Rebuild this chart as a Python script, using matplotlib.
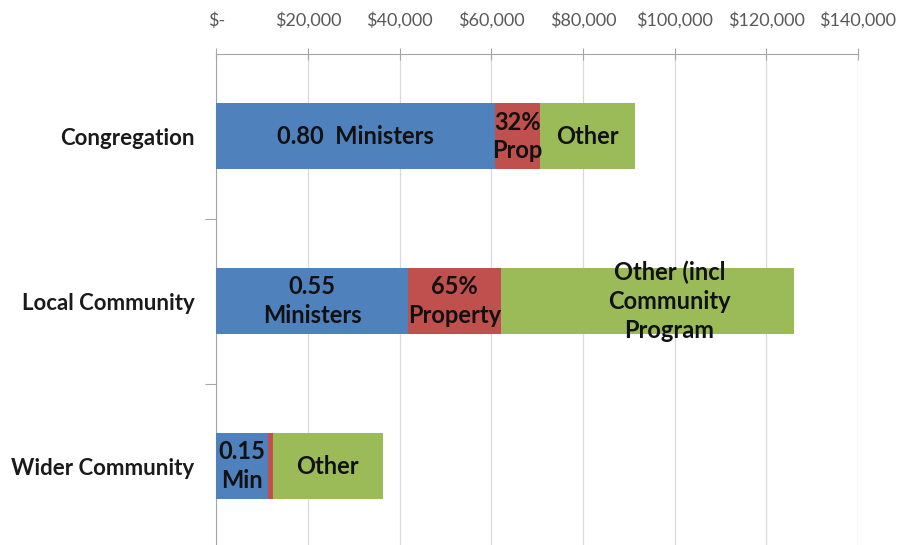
import matplotlib
matplotlib.use('Agg')
import matplotlib.pyplot as plt
import numpy as np
from matplotlib.ticker import FuncFormatter

# spend per area
categories = ['Congregation', 'Local Community', 'Wider Community']
ministers = [60700, 41700, 11300]
prop = [10000, 20400, 1000]
other = [20700, 63900, 24000]

min_labels = ['0.80  Ministers', '0.55\nMinisters', '0.15\nMin']
prop_labels = ['32%\nProp', '65%\nProperty', '']
other_labels = ['Other', 'Other (incl\nCommunity\nProgram', 'Other']

xticks = [0, 20000, 40000, 60000, 80000, 100000, 120000, 140000]

plt.rcParams['font.family'] = ['Lato', 'DejaVu Sans']

fig = plt.figure(figsize=(8.99, 5.45), dpi=100)
ax = fig.add_axes([0.2408, -0.0064, 0.7136, 0.9073])

y = np.arange(len(categories))
left2 = np.array(ministers)
left3 = left2 + np.array(prop)

b1 = ax.barh(y, ministers, height=0.4, color='#4F81BD', zorder=3)
b2 = ax.barh(y, prop, left=left2, height=0.4, color='#C0504D', zorder=3)
b3 = ax.barh(y, other, left=left3, height=0.4, color='#9BBB59', zorder=3)

def put_labels(bars, labels, dx=0):
    for bar, lab in zip(bars, labels):
        if not lab:
            continue
        cx = bar.get_x() + bar.get_width() / 2
        cy = bar.get_y() + bar.get_height() / 2
        ax.annotate(lab, (cx, cy), xytext=(dx, 0), textcoords='offset pixels',
                    ha='center', va='center', fontsize=17, fontweight='bold',
                    color='#111111', linespacing=1.3, zorder=5)

put_labels(b1, min_labels)
put_labels(b2, prop_labels)
put_labels(b3[:1], other_labels[:1])
put_labels(b3[1:2], other_labels[1:2], dx=22)
put_labels(b3[2:], other_labels[2:])

ax.set_xlim(0, 140000)
ax.set_ylim(2.5, -0.5)
ax.set_xticks(xticks)
ax.xaxis.set_major_formatter(FuncFormatter(lambda v, p: '$-' if v == 0 else '${:,.0f}'.format(v)))
ax.xaxis.tick_top()
ax.tick_params(axis='x', which='major', direction='inout', length=8, width=0.8,
               color='#A6A6A6', labelsize=13, labelcolor='#595959', pad=14)

ax.set_yticks(y)
ax.set_yticklabels(categories, fontsize=16, fontweight='bold', color='#1a1a1a')
ax.set_yticks([0.5, 1.5], minor=True)
ax.tick_params(axis='y', which='major', length=0, pad=16)
ax.tick_params(axis='y', which='minor', length=8, width=0.8, color='#A6A6A6', direction='out')

ax.grid(axis='x', color='#D9D9D9', linewidth=0.9, zorder=0)
for s in ['right', 'bottom']:
    ax.spines[s].set_visible(False)
ax.spines['top'].set_color('#A6A6A6')
ax.spines['left'].set_color('#A6A6A6')

fig.savefig('out.png', dpi=100)
